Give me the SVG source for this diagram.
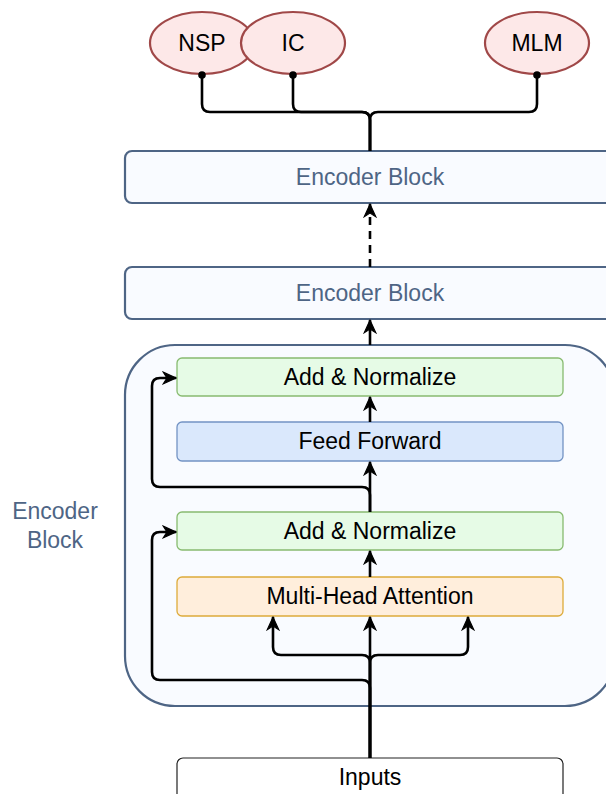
<svg xmlns="http://www.w3.org/2000/svg" width="606" height="794" viewBox="0 0 606 794">
<style>
text{font-family:"Liberation Sans",Arial,sans-serif;font-size:23px;text-anchor:middle;dominant-baseline:central;fill:#000}
.blk{fill:#f9fbff;stroke:#4e6585;stroke-width:2.2}
.blkt{fill:#4e6585}
.green{fill:#e6fbe6;stroke:#88bb70;stroke-width:1.3}
.blue{fill:#dae8fc;stroke:#7393c4;stroke-width:1.3}
.orange{fill:#ffeedc;stroke:#ddab3a;stroke-width:1.3}
.inp{fill:#fff;stroke:#222;stroke-width:1.2}
.ell{fill:#fde8e8;stroke:#a04848;stroke-width:2.2}
.c{fill:none;stroke:#000;stroke-width:2.6}
.a{marker-end:url(#arr)}
.d{marker-end:url(#dot)}
</style>
<defs>
<marker id="arr" viewBox="0 0 14 14" refX="13" refY="7" markerWidth="15" markerHeight="15" orient="auto" markerUnits="userSpaceOnUse">
<path d="M1,1.5 L13,7 L1,12.5 L4.5,7 Z" fill="#000" stroke="#000" stroke-width="1"/>
</marker>
<marker id="dot" viewBox="0 0 8 8" refX="4" refY="4" markerWidth="8" markerHeight="8" orient="auto" markerUnits="userSpaceOnUse">
<circle cx="4" cy="4" r="3.8" fill="#000"/>
</marker>
</defs>

<g id="container">
<rect class="blk" x="125" y="345" width="490" height="361" rx="50"/>
<text class="blkt" x="55" y="511">Encoder</text>
<text class="blkt" x="55" y="540">Block</text>
</g>

<g id="encoder-block-1">
<rect class="blk" x="125" y="151" width="492" height="52" rx="7"/>
<text class="blkt" x="370" y="177">Encoder Block</text>
</g>
<g id="encoder-block-2">
<rect class="blk" x="125" y="267" width="492" height="52" rx="7"/>
<text class="blkt" x="370" y="293">Encoder Block</text>
</g>

<g id="add-norm-1">
<rect class="green" x="177" y="358" width="386" height="38" rx="5"/>
<text x="370" y="377">Add &amp; Normalize</text>
</g>
<g id="feed-forward">
<rect class="blue" x="177" y="422" width="386" height="39" rx="5"/>
<text x="370" y="441">Feed Forward</text>
</g>
<g id="add-norm-2">
<rect class="green" x="177" y="512" width="386" height="38" rx="5"/>
<text x="370" y="531">Add &amp; Normalize</text>
</g>
<g id="mha">
<rect class="orange" x="177" y="577" width="386" height="39" rx="5"/>
<text x="370" y="596">Multi-Head Attention</text>
</g>
<g id="inputs">
<rect class="inp" x="177" y="758" width="386" height="42" rx="6"/>
<text x="370" y="777">Inputs</text>
</g>

<g id="nsp">
<ellipse class="ell" cx="202" cy="43" rx="52" ry="31"/>
<text x="202" y="43">NSP</text>
</g>
<g id="ic">
<ellipse class="ell" cx="293" cy="43" rx="52" ry="31"/>
<text x="293" y="43">IC</text>
</g>
<g id="mlm">
<ellipse class="ell" cx="537" cy="43" rx="52" ry="31"/>
<text x="537" y="43">MLM</text>
</g>

<g id="connectors">
<path class="c d" d="M370,151 L370,120 Q370,112 362,112 L210,112 Q202,112 202,104 L202,75"/>
<path class="c d" d="M370,151 L370,120 Q370,112 362,112 L301,112 Q293,112 293,104 L293,75"/>
<path class="c d" d="M370,151 L370,120 Q370,112 378,112 L529,112 Q537,112 537,104 L537,75"/>
<path class="c a" d="M370,267 L370,204" stroke-dasharray="8 6"/>
<path class="c a" d="M370,345 L370,320"/>
<path class="c a" d="M370,422 L370,397"/>
<path class="c a" d="M370,512 L370,462"/>
<path class="c a" d="M370,512 L370,495 Q370,487 362,487 L160,487 Q152,487 152,479 L152,386 Q152,378 160,378 L176,378"/>
<path class="c a" d="M370,577 L370,551"/>
<path class="c a" d="M370,758 L370,617"/>
<path class="c a" d="M370,758 L370,663 Q370,655 362,655 L281,655 Q273,655 273,647 L273,617"/>
<path class="c a" d="M370,758 L370,663 Q370,655 378,655 L460,655 Q468,655 468,647 L468,617"/>
<path class="c a" d="M370,758 L370,688 Q370,680 362,680 L160,680 Q152,680 152,672 L152,540 Q152,532 160,532 L176,532"/>
</g>
</svg>
